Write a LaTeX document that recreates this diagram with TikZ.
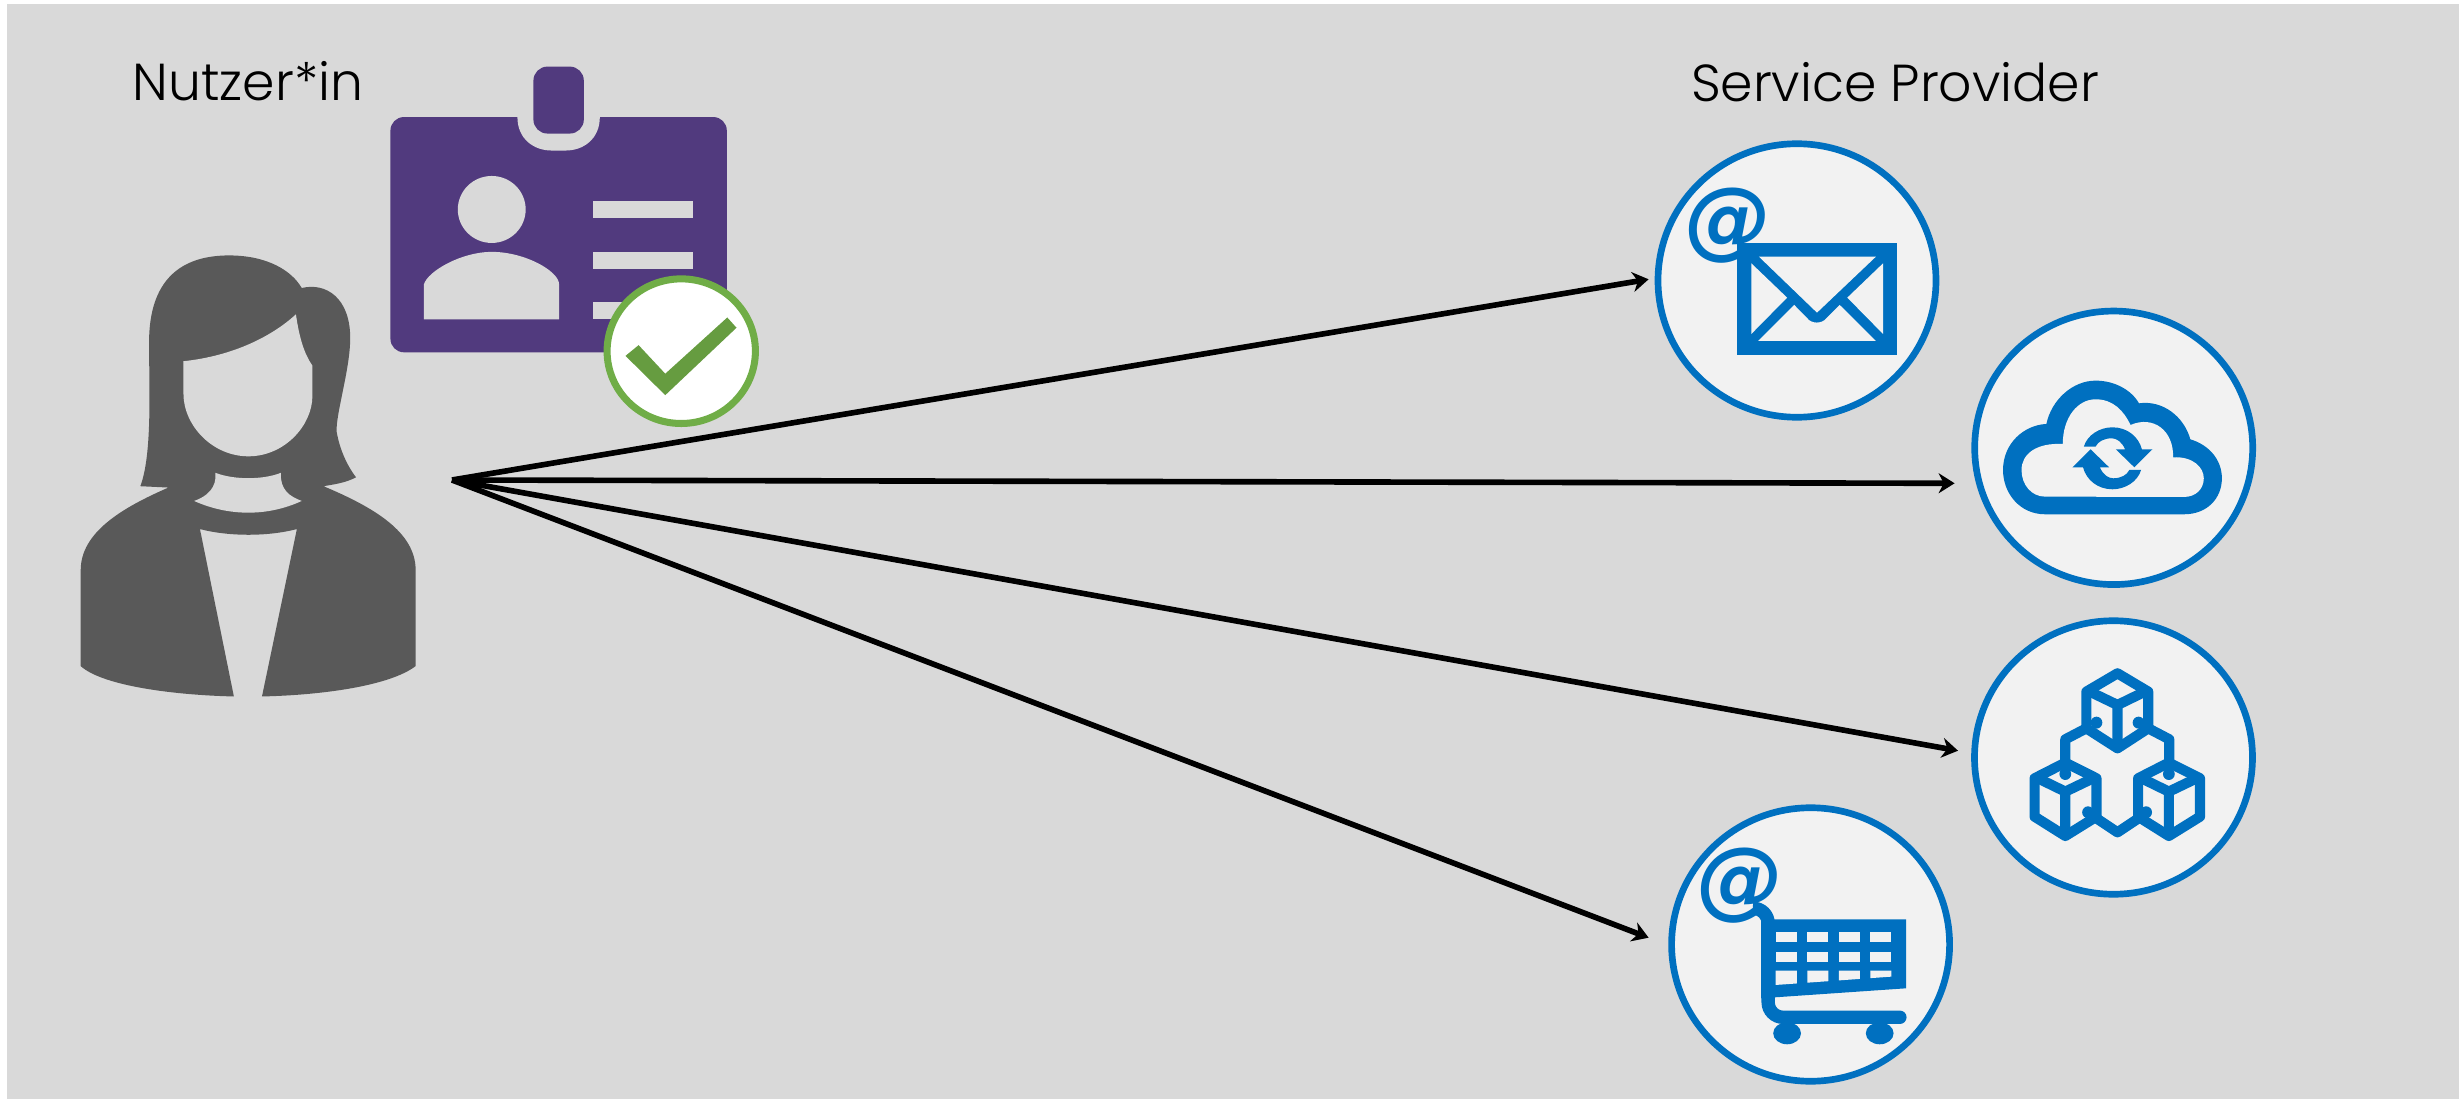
\documentclass[tikz,border=0pt]{standalone}
\usepackage{fontspec}
\setmainfont{Poppins}[UprightFont=* Light]
\newfontfamily\AtFont{DejaVu Sans}
\usetikzlibrary{arrows.meta,shapes.geometric}
\definecolor{BackGray}{HTML}{D9D9D9}
\definecolor{PersonGray}{HTML}{595959}
\definecolor{BadgePurple}{HTML}{513A7E}
\definecolor{RingGreen}{HTML}{70AD47}
\definecolor{TickGreen}{HTML}{669C40}
\definecolor{IconBlue}{HTML}{0070C0}
\definecolor{CircleGray}{HTML}{F2F2F2}
\tikzset{
	HeadLabel/.style={anchor=base,inner sep=0pt,font=\fontsize{14.8}{16}\selectfont},
	ServiceCircle/.style={draw=IconBlue,fill=CircleGray,ellipse,inner sep=0pt,outer sep=0pt,line width=1.9pt,minimum width=2.78cm,minimum height=2.735cm},
	AtSign/.style={text=IconBlue,inner sep=0pt,font=\AtFont\bfseries\itshape\fontsize{24.5}{26}\selectfont},
	AccessArrow/.style={-{Stealth[length=1.6mm,width=2mm]},line width=1.6pt},
	IconLine/.style={draw=IconBlue,line width=2.9pt,line join=round}
}
\begin{document}
\begin{tikzpicture}[x=0.1mm,y=-0.1mm]
	\useasboundingbox (0,0) rectangle (2459,1099);
	\fill[BackGray] (7,4) rectangle (2459,1099);

	\node[HeadLabel] (UserLabel) at (248,101) {Nutzer*in};
	\node[HeadLabel] (ProviderLabel) at (1895,101.5) {Service Provider};

	% person
	\begin{scope}[shift={(40,30)},xscale=0.4847,yscale=0.4464]
		\fill[PersonGray] (207,1022) .. controls (232,950) and (225,800) .. (225,700)
			.. controls (225,560) and (290,505) .. (390,505)
			.. controls (470,505) and (520,540) .. (540,578)
			.. controls (590,565) and (640,600) .. (640,690)
			.. controls (640,760) and (610,860) .. (612,900)
			.. controls (620,950) and (640,985) .. (652,1002)
			.. controls (630,1015) and (605,1018) .. (585,1022)
			.. controls (690,1070) and (775,1125) .. (775,1210)
			-- (775,1425) .. controls (720,1470) and (580,1490) .. (458,1493)
			-- (530,1118) .. controls (470,1135) and (390,1135) .. (330,1118)
			-- (400,1493) .. controls (280,1490) and (130,1470) .. (84,1425)
			-- (84,1210) .. controls (84,1125) and (170,1070) .. (265,1025) -- cycle;
		\fill[BackGray] (296,742) .. controls (400,730) and (480,685) .. (528,637)
			.. controls (535,690) and (545,725) .. (562,752) -- (562,820)
			.. controls (562,885) and (505,955) .. (430,955)
			.. controls (355,955) and (296,885) .. (296,815) -- cycle;
		\fill[BackGray] (362,992) .. controls (400,1008) and (460,1008) .. (497,992)
			.. controls (495,1030) and (515,1045) .. (540,1055)
			.. controls (470,1090) and (390,1090) .. (318,1055)
			.. controls (345,1045) and (365,1025) .. (362,992) -- cycle;

		% badge
		\fill[BadgePurple,rounded corners=0.135cm] (723,195) rectangle (1417,722);
		\fill[BackGray] (985,190) -- (985,195) .. controls (985,245) and (1020,270) .. (1055,270) -- (1085,270)
			.. controls (1120,270) and (1155,245) .. (1155,195) -- (1155,190) -- cycle;
		\fill[BadgePurple,rounded corners=0.14cm] (1018,82) rectangle (1122,232);
		\fill[BackGray] (932,402) ellipse (70 and 75);
		\fill[BackGray] (792,648) -- (792,570) .. controls (800,540) and (870,497) .. (932,497)
			.. controls (1000,497) and (1071,540) .. (1071,570) -- (1071,648) -- cycle;
		\foreach \LineTop in {383,497,609}
			\fill[BackGray] (1140,\LineTop) rectangle (1348,\LineTop+38);
		\filldraw[fill=white,draw=RingGreen,line width=2pt] (1323,719.5) ellipse (153 and 162);
		\fill[TickGreen] (1208,730) -- (1235,706) -- (1290,770) -- (1418,644) -- (1437,667) -- (1290,818) -- cycle;
	\end{scope}

	\node[ServiceCircle] (MailCircle) at (1797,280.5) {};
	\node[ServiceCircle] (CloudCircle) at (2113.7,447.8) {};
	\node[ServiceCircle] (CubeCircle) at (2113.5,757.5) {};
	\node[ServiceCircle] (ShopCircle) at (1810.6,944.5) {};

	% mail
	\node[AtSign] (MailAt) at (1728.6,226) {@};
	\begin{scope}[shift={(1620,120)},xscale=0.4209,yscale=0.3333]
		\fill[IconBlue] (278,368) rectangle (657,705);
		\fill[CircleGray] (330,410) -- (608,410) -- (468,578) -- cycle;
		\fill[CircleGray] (312,430) -- (397,533) -- (312,642) -- cycle;
		\fill[CircleGray] (625,430) -- (540,533) -- (625,642) -- cycle;
		\fill[CircleGray] (328,663) -- (414,555) -- (445,595) .. controls (455,612) and (480,612) .. (490,595)
			-- (522,555) -- (608,663) -- cycle;

		% cloud
		\fill[IconBlue] (1010,1183) .. controls (950,1183) and (910,1120) .. (910,1050)
			.. controls (910,970) and (960,915) .. (1013,912)
			.. controls (1025,840) and (1075,782) .. (1130,782)
			.. controls (1175,782) and (1215,810) .. (1233,850)
			.. controls (1290,840) and (1340,890) .. (1355,958)
			.. controls (1400,975) and (1430,1020) .. (1430,1075)
			.. controls (1430,1135) and (1395,1183) .. (1340,1183) -- cycle;
		\fill[CircleGray] (1010,1130) .. controls (978,1130) and (954,1095) .. (954,1050)
			.. controls (954,1003) and (988,968) .. (1052,972)
			.. controls (1052,893) and (1087,838) .. (1130,838)
			.. controls (1172,838) and (1197,873) .. (1213,915)
			.. controls (1268,885) and (1316,933) .. (1314,1012)
			.. controls (1361,1009) and (1387,1042) .. (1387,1075)
			.. controls (1387,1108) and (1367,1131) .. (1340,1131) -- cycle;
		\foreach \SyncAngle in {0,180}
			\fill[IconBlue,rotate around={\SyncAngle:(1170,1015)}] (1102,980)
				.. controls (1110,945) and (1140,922) .. (1170,922)
				.. controls (1205,922) and (1232,950) .. (1240,988)
				-- (1265,988) -- (1222,1042) -- (1178,988) -- (1200,988)
				.. controls (1192,965) and (1180,955) .. (1168,955)
				.. controls (1150,955) and (1135,965) .. (1130,980) -- cycle;
	\end{scope}

	% cubes
	\begin{scope}[shift={(1620,600)},xscale=0.4209,yscale=0.3333]
		\draw[IconLine] (1182,220) -- (1255,275) -- (1255,385) -- (1182,445) -- (1108,385) -- (1108,275) -- cycle;
		\draw[IconLine] (1108,270) -- (1182,315) -- (1255,270) (1182,315) -- (1182,445);
		\foreach \CubeShift in {0,246}{
			\begin{scope}[shift={(\CubeShift,0)}]
				\draw[IconLine] (1058,488) -- (1132,535) -- (1132,650) -- (1058,708) -- (985,650) -- (985,535) -- cycle;
				\draw[IconLine] (985,530) -- (1058,575) -- (1132,530) (1058,575) -- (1058,708);
			\end{scope}
		}
		\draw[IconLine] (1108,385) -- (1058,418) -- (1058,488) (1255,385) -- (1305,418) -- (1305,488)
			(1132,655) -- (1182,697) -- (1232,655);
		\foreach \DotX/\DotY in {1132/368,1232/368,1058/522,1112/637,1304/522,1250/637}
			\fill[IconBlue] (\DotX,\DotY) ellipse (14 and 18);

		% cart
		\fill[IconBlue] (335,958) -- (680,958) -- (680,1165) -- (335,1195) -- cycle;
		\foreach \CellX in {370,445,520,595}{
			\foreach \CellY in {996,1055}
				\fill[CircleGray] (\CellX,\CellY) rectangle (\CellX+50,\CellY+31);
			\pgfmathsetmacro{\LowLeft}{1155-(\CellX-370)*0.091}
			\pgfmathsetmacro{\LowRight}{\LowLeft-4.5}
			\fill[CircleGray] (\CellX,1112) -- (\CellX+50,1112) -- (\CellX+50,\LowRight) -- (\CellX,\LowLeft) -- cycle;
		}
		\fill[IconBlue] (397,1300) ellipse (33 and 33);
		\fill[IconBlue] (617,1300) ellipse (33 and 33);
	\end{scope}
	\node[AtSign] (ShopAt) at (1741,886) {@};
	\begin{scope}[shift={(1620,600)},xscale=0.4209,yscale=0.3333]
		\draw[IconBlue,line width=3.8pt,line cap=round,rounded corners=0.15cm] (320,925) -- (352,925) -- (352,1252) -- (665,1252);
	\end{scope}

	% arrows
	\coordinate (FanPos) at (452,480);
	\coordinate (MailTip) at (1648.6,279.3);
	\coordinate (CloudTip) at (1954.6,483.3);
	\coordinate (CubeTip) at (1958,750.7);
	\coordinate (ShopTip) at (1648.6,937.7);
	\foreach \ArrowTip in {MailTip,CloudTip,CubeTip,ShopTip}
		\draw[AccessArrow] (FanPos) -- (\ArrowTip);
\end{tikzpicture}
\end{document}
